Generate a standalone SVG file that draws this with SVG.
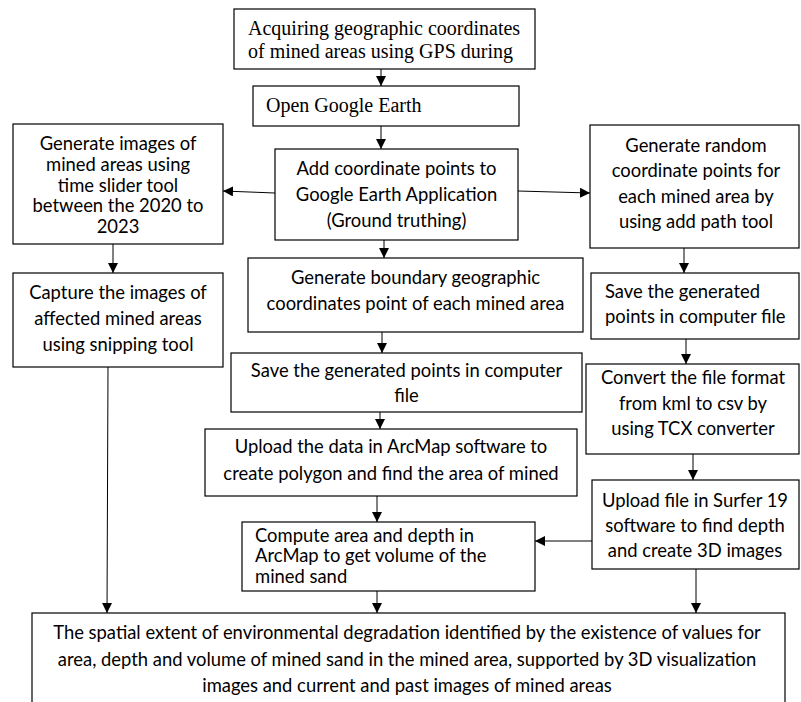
<svg xmlns="http://www.w3.org/2000/svg" width="801" height="702" viewBox="0 0 801 702">
<defs>
<style>
.box{fill:#fff;stroke:#000;stroke-width:1.2}
.t{font-family:Lato,"Liberation Sans",sans-serif;font-size:18.4px;fill:#000}
.c{text-anchor:middle}
.s{font-family:"Liberation Serif","Times New Roman",serif;font-size:20px;fill:#000}
.ln{stroke:#000;stroke-width:1;fill:none}
</style>
<marker id="ah" markerUnits="userSpaceOnUse" markerWidth="10" markerHeight="10" refX="10" refY="5" orient="auto">
<path d="M0,0 L10,5 L0,10 Z" fill="#000"/>
</marker>
</defs>
<rect width="801" height="702" fill="#fff"/>
<g id="connectors">
<line class="ln" x1="381" y1="69" x2="381" y2="86" marker-end="url(#ah)"/>
<line class="ln" x1="381" y1="126" x2="381" y2="149" marker-end="url(#ah)"/>
<line class="ln" x1="275" y1="193" x2="223" y2="191" marker-end="url(#ah)"/>
<line class="ln" x1="518" y1="191" x2="590" y2="193" marker-end="url(#ah)"/>
<line class="ln" x1="384" y1="240" x2="384" y2="258" marker-end="url(#ah)"/>
<line class="ln" x1="382" y1="332" x2="382" y2="353" marker-end="url(#ah)"/>
<line class="ln" x1="380" y1="412" x2="380" y2="429" marker-end="url(#ah)"/>
<line class="ln" x1="377" y1="496" x2="377" y2="522" marker-end="url(#ah)"/>
<line class="ln" x1="377" y1="591" x2="377" y2="613" marker-end="url(#ah)"/>
<line class="ln" x1="113" y1="244" x2="113" y2="273" marker-end="url(#ah)"/>
<line class="ln" x1="108" y1="367" x2="107" y2="613" marker-end="url(#ah)"/>
<line class="ln" x1="684" y1="248" x2="684" y2="273" marker-end="url(#ah)"/>
<line class="ln" x1="686" y1="339" x2="686" y2="364" marker-end="url(#ah)"/>
<line class="ln" x1="693" y1="454" x2="693" y2="480" marker-end="url(#ah)"/>
<line class="ln" x1="592" y1="541" x2="535" y2="541" marker-end="url(#ah)"/>
<line class="ln" x1="696" y1="569" x2="696" y2="613" marker-end="url(#ah)"/>
</g>
<g id="n1"><rect class="box" x="234" y="9" width="301" height="60"/>
<text class="s" x="248" y="35">Acquiring geographic coordinates</text>
<text class="s" x="248" y="58">of mined areas using GPS during</text></g>
<g id="n2"><rect class="box" x="253" y="86" width="266" height="40"/>
<text class="s" x="266" y="112">Open Google Earth</text></g>
<g id="n3"><rect class="box" x="275" y="149" width="243" height="91"/>
<text class="t c" x="396.5" y="175">Add coordinate points to</text>
<text class="t c" x="396.5" y="201">Google Earth Application</text>
<text class="t c" x="396.5" y="227">(Ground truthing)</text></g>
<g id="n4"><rect class="box" x="248" y="258" width="335" height="74"/>
<text class="t c" x="415.5" y="284">Generate boundary geographic</text>
<text class="t c" x="415.5" y="310">coordinates point of each mined area</text></g>
<g id="n5"><rect class="box" x="231" y="353" width="351" height="59"/>
<text class="t c" x="406.5" y="377">Save the generated points in computer</text>
<text class="t c" x="406.5" y="402">file</text></g>
<g id="n6"><rect class="box" x="205" y="429" width="372" height="67"/>
<text class="t c" x="391" y="453">Upload the data in ArcMap software to</text>
<text class="t c" x="391" y="480">create polygon and find the area of mined</text></g>
<g id="n7"><rect class="box" x="242" y="522" width="293" height="69"/>
<text class="t" x="255" y="542">Compute area and depth in</text>
<text class="t" x="255" y="562">ArcMap to get volume of the</text>
<text class="t" x="255" y="583">mined sand</text></g>
<g id="l1"><rect class="box" x="13" y="124" width="210" height="120"/>
<text class="t c" x="118" y="150">Generate images of</text>
<text class="t c" x="118" y="171">mined areas using</text>
<text class="t c" x="118" y="192">time slider tool</text>
<text class="t c" x="118" y="212">between the 2020 to</text>
<text class="t c" x="118" y="233">2023</text></g>
<g id="l2"><rect class="box" x="13" y="273" width="210" height="94"/>
<text class="t c" x="118" y="299">Capture the images of</text>
<text class="t c" x="118" y="325">affected mined areas</text>
<text class="t c" x="118" y="351">using snipping tool</text></g>
<g id="r1"><rect class="box" x="590" y="125" width="209" height="123"/>
<text class="t c" x="696" y="152">Generate random</text>
<text class="t c" x="696" y="177">coordinate points for</text>
<text class="t c" x="696" y="203">each mined area by</text>
<text class="t c" x="696" y="228">using add path tool</text></g>
<g id="r2"><rect class="box" x="591" y="273" width="208" height="66"/>
<text class="t" x="605" y="298">Save the generated</text>
<text class="t" x="605" y="323">points in computer file</text></g>
<g id="r3"><rect class="box" x="586" y="364" width="213" height="90"/>
<text class="t c" x="693" y="384">Convert the file format</text>
<text class="t c" x="693" y="410">from kml to csv by</text>
<text class="t c" x="693" y="435">using TCX converter</text></g>
<g id="r4"><rect class="box" x="592" y="480" width="207" height="89"/>
<text class="t c" x="695" y="507">Upload file in Surfer 19</text>
<text class="t c" x="695" y="532">software to find depth</text>
<text class="t c" x="695" y="557">and create 3D images</text></g>
<g id="out"><rect class="box" x="32" y="613" width="753" height="100"/>
<text class="t c" x="407" y="639">The spatial extent of environmental degradation identified by the existence of values for</text>
<text class="t c" x="407" y="666">area, depth and volume of mined sand in the mined area, supported by 3D visualization</text>
<text class="t c" x="407" y="692">images and current and past images of mined areas</text></g>
</svg>
